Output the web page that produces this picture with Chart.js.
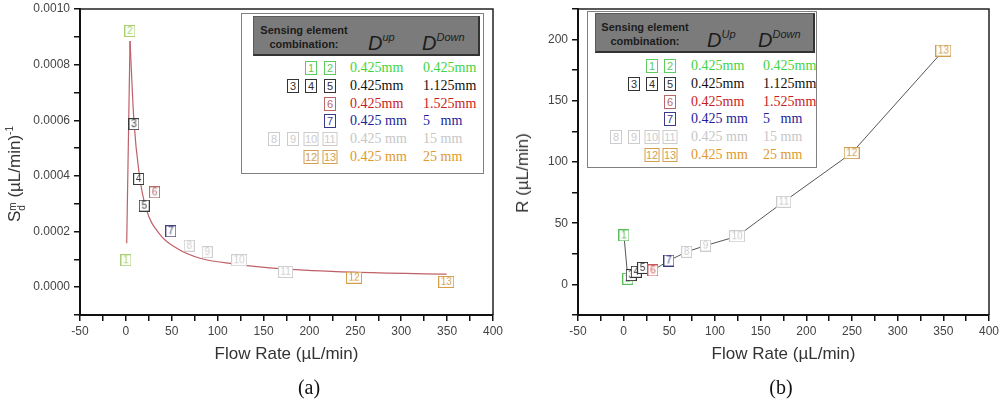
<!DOCTYPE html>
<html>
<head>
<meta charset="utf-8">
<title>Sensitivity and dynamic range vs flow rate</title>
<script src="https://cdn.jsdelivr.net/npm/chart.js@4.4.1/dist/chart.umd.min.js"></script>
<style>
    html, body { margin: 0; padding: 0; background: #fff; }
    #page { position: relative; width: 1000px; height: 401px; overflow: hidden; font-family: 'Liberation Sans', Arial, sans-serif; }
    .panel { position: absolute; top: 0; width: 500px; height: 401px; }
    .panel canvas { position: absolute; left: 0; top: 0; }
    .ytitle { position: absolute; transform: translate(-50%, -50%) rotate(-90deg); white-space: nowrap; font-size: 17px; color: #333; }
    .ytitle sup { font-size: 10px; vertical-align: 7px; }
    .stack { display: inline-block; font-size: 10px; line-height: 9px; vertical-align: -5px; text-align: left; }
    .caption { position: absolute; top: 376px; transform: translateX(-50%); font: 20px 'Liberation Serif', 'Times New Roman', serif; color: #111; }
    .legend { position: absolute; box-sizing: border-box; border: 1px solid #808080; background: #fff; }
    .legend .head { position: absolute; box-sizing: border-box; background: #7b7b7b; border-top: 1px solid #5a5a5a; border-left: 1px solid #5a5a5a; border-right: 2px solid #333; border-bottom: 2px solid #333; }
    .legend .htext { position: absolute; top: 6px; transform: translateX(-50%); text-align: center; font-weight: bold; font-size: 11px; line-height: 14px; color: #1c1c1c; white-space: nowrap; }
    .legend .dlab { position: absolute; top: 9px; font-style: italic; font-size: 20px; line-height: 22px; color: #1c1c1c; white-space: nowrap; }
    .legend .dlab sup { font-size: 11px; vertical-align: 9px; }
    .legend .box { position: absolute; box-sizing: border-box; height: 14px; border: 1px solid; background: #fff; font-size: 11px; line-height: 12px; text-align: center; transform: translate(-50%, -50%); }
    .legend .val { position: absolute; font: 14px 'Liberation Serif', 'Times New Roman', serif; line-height: 16px; white-space: pre; transform: translateY(-50%); }
</style>
</head>
<body>
<div id="page">
    <div class="panel" id="panelA" style="left:0">
        <canvas id="chartA" width="510" height="401"></canvas>
        <div class="ytitle" style="left:15px; top:174px">S<span class="stack">m<br>d</span> (µL/min)<sup>-1</sup></div>
        <div class="caption" style="left:309px">(a)</div>
    </div>
    <div class="panel" id="panelB" style="left:500px">
        <canvas id="chartB" width="500" height="401"></canvas>
        <div class="ytitle" style="left:23px; top:173px">R (µL/min)</div>
        <div class="caption" style="left:281px">(b)</div>
    </div>
</div>

<script>
// Case numbers of the sensing element combinations
const caseLabels = ['1', '2', '3', '4', '5', '6', '7', '8', '9', '10', '11', '12', '13'];
// Which legend row each case belongs to
const caseGroup = [0, 0, 1, 1, 1, 2, 3, 4, 4, 4, 4, 5, 5];

// (a) sensitivity per case
const flowA = [0.1, 4.4, 8.8, 13.9, 20, 31.3, 49, 69, 88.6, 123.4, 174, 248.6, 349];
const sensA = [0.000097, 0.000921, 0.000586, 0.000389, 0.000293, 0.000341, 0.000201, 0.000149, 0.000126, 0.000097, 0.000055, 0.000034, 0.000019];

// (a) fitted curve
const fitFlow = [0.9, 4.5, 8.8, 14.6, 21.9, 37.2, 55.4, 80.8, 117, 171.5, 247.8, 349.5];
const fitSens = [0.000158, 0.000885, 0.000595, 0.000405, 0.000284, 0.000189, 0.00014, 0.000104, 0.000084, 0.000066, 0.000054, 0.0000467];

// (b) dynamic range per case
const flowB = [0.3, 4.6, 8.3, 13.8, 20.7, 32, 49.5, 69, 89.6, 124.2, 175.3, 249.6, 350];
const rangeB = [40.1, 4.6, 7.6, 10.3, 13.5, 11.4, 19.5, 26.6, 31.7, 39.3, 67.5, 107.3, 191];

// axis ranges and ticks
const flowTicks = { min: -50, max: 400, step: 25, labelEvery: 50 };
const sensTicks = { min: -0.0001, max: 0.0010, step: 0.0001 };
const rangeTicks = { min: -25, max: 225, step: 25, labelEvery: 50 };

// legend table
const legendRows = [[1, 2], [3, 4, 5], [6], [7], [8, 9, 10, 11], [12, 13]];
const dUp = ['0.425mm', '0.425mm', '0.425mm', '0.425 mm', '0.425 mm', '0.425 mm'];
const dDown = ['0.425mm', '1.125mm', '1.525mm', '5   mm', '15 mm', '25 mm'];

// colours per legend row
const textColors = ['#3fd43f', '#111111', '#c91c1c', '#1e1e9a', '#c6c6c6', '#e0992a'];
const boxColors = ['#5ccc5c', '#333333', '#b86666', '#3a3a88', '#cccccc', '#d4a050'];
const markerColorsA = ['#a9cf6e', '#3a3a3a', '#b46a6a', '#45467e', '#cfcfcf', '#d2a04c'];
const markerColorsB = ['#5cbf5c', '#333333', '#cc5555', '#3a3a80', '#cccccc', '#cf9f4f'];

Chart.defaults.font.family = "'Liberation Sans', Arial, sans-serif";

// small white box with the case number, used as point style
function boxMarker(text, color) {
    const font = '10px "Liberation Sans", Arial, sans-serif';
    const c = document.createElement('canvas');
    let g = c.getContext('2d');
    g.font = font;
    const w = Math.round(Math.max(11, g.measureText(text).width + 5));
    const h = 12;
    c.width = w;
    c.height = h;
    g = c.getContext('2d');
    g.fillStyle = '#fff';
    g.fillRect(0, 0, w, h);
    g.strokeStyle = color;
    g.lineWidth = 1;
    g.strokeRect(0.5, 0.5, w - 1, h - 1);
    g.font = font;
    g.fillStyle = color;
    g.textAlign = 'center';
    g.textBaseline = 'middle';
    g.fillText(text, w / 2, h / 2 + 0.5);
    return c;
}

function toPoints(xs, ys) {
    return xs.map((x, i) => ({ x: x, y: ys[i] }));
}

// top and right edges of the plot frame
const framePlugin = {
    id: 'frame',
    afterDraw(chart) {
        const { ctx, chartArea: a } = chart;
        ctx.save();
        ctx.strokeStyle = '#222';
        ctx.lineWidth = 1.5;
        ctx.beginPath();
        ctx.moveTo(a.left, a.top);
        ctx.lineTo(a.right, a.top);
        ctx.lineTo(a.right, a.bottom);
        ctx.stroke();
        ctx.restore();
    }
};

function axisCommon() {
    return {
        border: { display: true, color: '#111', width: 2 },
        grid: { display: true, drawOnChartArea: false, drawTicks: true, tickLength: 6, color: '#111', lineWidth: 1.5 },
        ticks: { autoSkip: false, maxRotation: 0, minRotation: 0, color: '#444', font: { size: 12 }, padding: 4 }
    };
}

// keep the plot area where the reference has it, labels may overhang
function noOverhang(scale) {
    scale.paddingLeft = 0;
    scale.paddingRight = 0;
    scale.paddingTop = 0;
    scale.paddingBottom = 0;
}

function flowAxis() {
    const ax = axisCommon();
    ax.type = 'linear';
    ax.min = flowTicks.min;
    ax.max = flowTicks.max;
    ax.ticks.stepSize = flowTicks.step;
    ax.ticks.padding = 3;
    ax.ticks.callback = v => (v % flowTicks.labelEvery === 0 ? v : '');
    ax.title = { display: true, text: 'Flow Rate (µL/min)', color: '#333', font: { size: 17 }, padding: { top: 0, bottom: 0 } };
    ax.afterFit = scale => { scale.height = 50; noOverhang(scale); };
    return ax;
}

function baseOptions(yAxis, padRight) {
    return {
        responsive: false,
        animation: false,
        events: [],
        layout: { padding: { left: 0, top: 9, right: padRight, bottom: 36 } },
        plugins: { legend: { display: false }, tooltip: { enabled: false } },
        scales: { x: flowAxis(), y: yAxis }
    };
}

// ---- (a) sensitivity chart ----
const yA = axisCommon();
yA.type = 'linear';
yA.min = sensTicks.min;
yA.max = sensTicks.max;
yA.ticks.stepSize = sensTicks.step;
yA.ticks.callback = v => (Math.round(v / sensTicks.step) % 2 === 0 ? v.toFixed(4) : '');
yA.afterFit = scale => { scale.width = 80; noOverhang(scale); };

new Chart(document.getElementById('chartA'), {
    type: 'scatter',
    data: {
        datasets: [
            {
                data: toPoints(flowA, sensA),
                pointStyle: caseLabels.map((t, i) => boxMarker(t, markerColorsA[caseGroup[i]])),
                pointRadius: 6,
                showLine: false
            },
            {
                data: toPoints(fitFlow.slice(0, 2), fitSens.slice(0, 2)),
                showLine: true,
                borderColor: '#bf6068',
                borderWidth: 1.2,
                pointRadius: 0,
                tension: 0
            },
            {
                data: toPoints(fitFlow.slice(1), fitSens.slice(1)),
                showLine: true,
                borderColor: '#bf6068',
                borderWidth: 1.2,
                pointRadius: 0,
                cubicInterpolationMode: 'monotone'
            }
        ]
    },
    options: baseOptions(yA, 17),
    plugins: [framePlugin]
});

// ---- (b) dynamic range chart ----
const yB = axisCommon();
yB.type = 'linear';
yB.min = rangeTicks.min;
yB.max = rangeTicks.max;
yB.ticks.stepSize = rangeTicks.step;
yB.ticks.callback = v => (v % rangeTicks.labelEvery === 0 ? v : '');
yB.afterFit = scale => { scale.width = 78; noOverhang(scale); };

new Chart(document.getElementById('chartB'), {
    type: 'scatter',
    data: {
        datasets: [
            {
                data: toPoints(flowB, rangeB),
                pointStyle: caseLabels.map((t, i) => boxMarker(t, markerColorsB[caseGroup[i]])),
                pointRadius: 6,
                showLine: true,
                borderColor: '#555',
                borderWidth: 1,
                tension: 0
            }
        ]
    },
    options: baseOptions(yB, 11),
    plugins: [framePlugin]
});

// ---- legend tables (HTML) ----
function buildLegend(panel, cfg) {
    const lg = document.createElement('div');
    lg.className = 'legend';
    Object.assign(lg.style, { left: cfg.x + 'px', top: cfg.y + 'px', width: cfg.w + 'px', height: cfg.h + 'px' });

    const head = document.createElement('div');
    head.className = 'head';
    Object.assign(head.style, { left: cfg.head.x + 'px', top: cfg.head.y + 'px', width: cfg.head.w + 'px', height: cfg.head.h + 'px' });
    head.innerHTML =
        '<div class="htext" style="left:' + cfg.head.textX + 'px">Sensing element<br>combination:</div>' +
        '<div class="dlab" style="left:' + cfg.head.upX + 'px">D<sup>' + cfg.upText + '</sup></div>' +
        '<div class="dlab" style="left:' + cfg.head.downX + 'px">D<sup>Down</sup></div>';
    lg.appendChild(head);

    legendRows.forEach((cases, r) => {
        const y = cfg.row0 + r * cfg.dy;
        cases.slice().reverse().forEach((num, k) => {
            const b = document.createElement('div');
            b.className = 'box';
            b.textContent = num;
            Object.assign(b.style, {
                left: cfg.cols[k] + 'px', top: y + 'px',
                width: (num > 9 ? 15 : 12) + 'px',
                borderColor: boxColors[r], color: boxColors[r]
            });
            lg.appendChild(b);
        });
        [[dUp[r], cfg.t1], [dDown[r], cfg.t2]].forEach(([txt, x]) => {
            const v = document.createElement('div');
            v.className = 'val';
            v.textContent = txt;
            Object.assign(v.style, { left: x + 'px', top: y + 'px', color: textColors[r] });
            lg.appendChild(v);
        });
    });
    panel.appendChild(lg);
}

buildLegend(document.getElementById('panelA'), {
    x: 241, y: 13, w: 243, h: 161,
    head: { x: 11, y: 2, w: 227, h: 40, textX: 50, upX: 114, downX: 168 },
    upText: 'up',
    cols: [88, 69, 51, 32], t1: 108, t2: 181, row0: 54, dy: 17.8
});

buildLegend(document.getElementById('panelB'), {
    x: 87, y: 11, w: 230, h: 157,
    head: { x: 7, y: 1, w: 220, h: 40, textX: 49, upX: 111, downX: 162 },
    upText: 'Up',
    cols: [82, 64, 46, 28], t1: 103, t2: 175, row0: 54, dy: 17.8
});
</script>
</body>
</html>
